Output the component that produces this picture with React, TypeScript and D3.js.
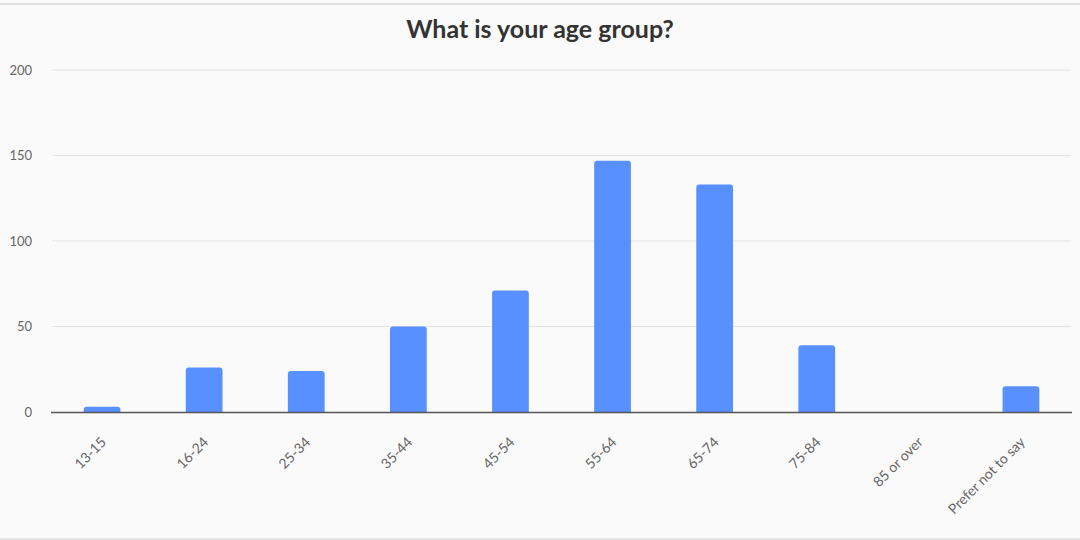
import React, { useEffect, useRef } from "react";
import * as d3 from "d3";

const categories = ["13-15", "16-24", "25-34", "35-44", "45-54", "55-64", "65-74", "75-84", "85 or over", "Prefer not to say"];
const counts = [3, 26, 24, 50, 71, 147, 133, 39, 0, 15];
const yTicks = [0, 50, 100, 150, 200];
const title = "What is your age group?";

const W = 1080;
const H = 540;
const FONT = "Lato, 'Open Sans', sans-serif";

export default function App() {
  const ref = useRef<SVGSVGElement | null>(null);

  useEffect(() => {
    const svg = d3.select(ref.current);
    svg.selectAll("*").remove();

    const left = 51, right = 1072, top = 70, bottom = 412;
    const x = d3.scaleBand<string>().domain(categories).range([left, right]).paddingInner(0.64).paddingOuter(0.32);
    const y = d3.scaleLinear().domain([0, 200]).range([bottom, top]);

    svg.append("rect").attr("width", W).attr("height", H).attr("fill", "#fafafa");
    svg.append("line").attr("x1", 0).attr("x2", W).attr("y1", 4).attr("y2", 4).attr("stroke", "#e0e0e0").attr("stroke-width", 2);
    svg.append("line").attr("x1", 0).attr("x2", W).attr("y1", 539).attr("y2", 539).attr("stroke", "#e6e6e6").attr("stroke-width", 2);

    svg.append("text")
      .attr("x", 540).attr("y", 38)
      .attr("text-anchor", "middle")
      .attr("font-family", FONT).attr("font-weight", 700).attr("font-size", 25)
      .attr("fill", "#333333")
      .text(title);

    // horizontal grid and y labels
    const g = svg.append("g");
    yTicks.forEach((t) => {
      if (t > 0) {
        g.append("line").attr("x1", left + 1).attr("x2", right - 1)
          .attr("y1", y(t)).attr("y2", y(t)).attr("stroke", "#e3e3e3").attr("stroke-width", 1);
      }
      g.append("text").attr("x", 32).attr("y", y(t) + 4.5)
        .attr("text-anchor", "end").attr("font-family", FONT).attr("font-size", 13)
        .attr("fill", "#666666").text(t);
    });

    // bars with rounded tops
    const r = 3;
    svg.append("g").selectAll("path").data(categories).join("path")
      .attr("fill", "#5891ff")
      .attr("d", (c, i) => {
        const v = counts[i];
        if (v <= 0) return "";
        const x0 = x(c)!, w = x.bandwidth(), y0 = y(v), yb = y(0);
        const rr = Math.min(r, yb - y0);
        return `M${x0},${yb}V${y0 + rr}Q${x0},${y0} ${x0 + rr},${y0}H${x0 + w - rr}Q${x0 + w},${y0} ${x0 + w},${y0 + rr}V${yb}Z`;
      });

    // baseline
    svg.append("line").attr("x1", left).attr("x2", right).attr("y1", bottom + 0.5).attr("y2", bottom + 0.5)
      .attr("stroke", "#555555").attr("stroke-width", 1.5);

    // rotated category labels
    svg.append("g").selectAll("text").data(categories).join("text")
      .attr("transform", (c) => `translate(${x(c)! + x.bandwidth() / 2 + 5},${bottom + 31}) rotate(-45)`)
      .attr("text-anchor", "end")
      .attr("font-family", FONT).attr("font-size", 14)
      .attr("fill", "#666666")
      .text((c) => c);
  }, []);

  return (
    <div style={{ position: "fixed", left: 0, top: 0 }}>
      <svg ref={ref} width={W} height={H} style={{ display: "block" }} />
    </div>
  );
}
